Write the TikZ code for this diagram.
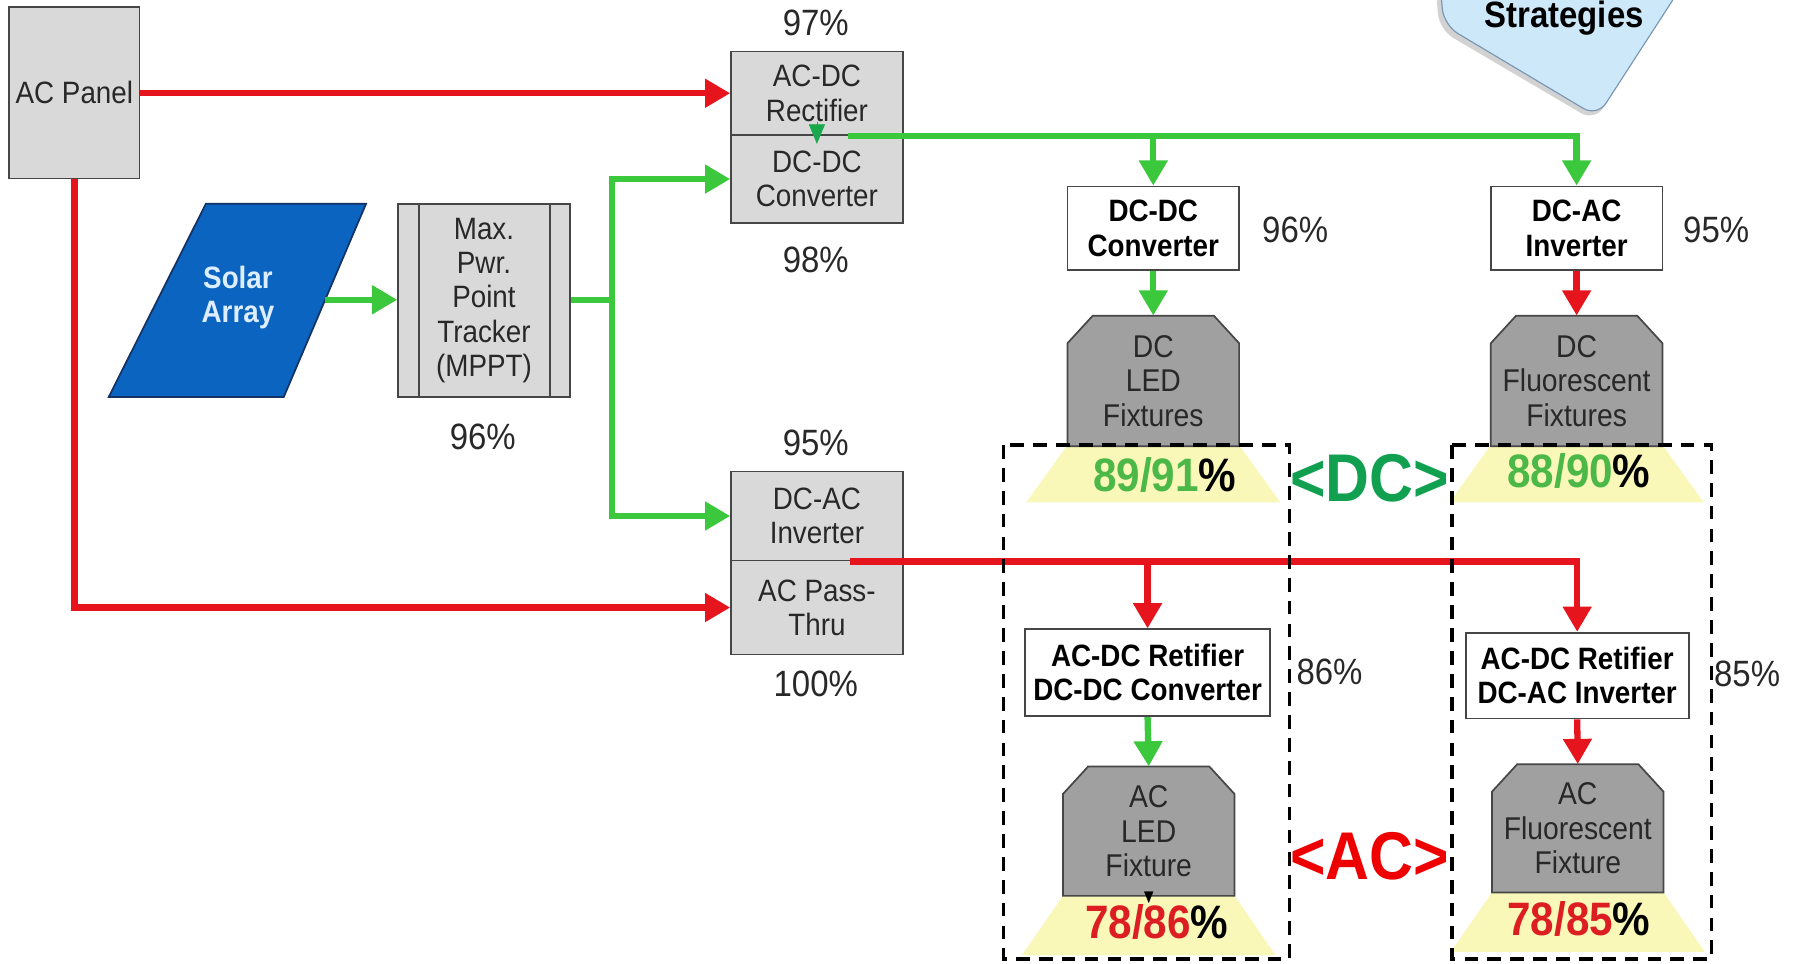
\documentclass[tikz,border=0pt]{standalone}
\usepackage{fontspec}
\setmainfont{Liberation Sans}[FakeStretch=0.9]
\usetikzlibrary{arrows.meta,calc}
\definecolor{boxgray}{RGB}{217,217,217}
\definecolor{edgegray}{RGB}{70,70,70}
\definecolor{fixgray}{RGB}{160,160,160}
\definecolor{redline}{RGB}{230,20,28}
\definecolor{greenline}{RGB}{60,200,60}
\definecolor{dcgreen}{RGB}{16,160,80}
\definecolor{numgreen}{RGB}{76,184,72}
\definecolor{numred}{RGB}{220,30,35}
\definecolor{acred}{RGB}{238,0,0}
\definecolor{solarblue}{RGB}{10,100,192}
\definecolor{solaredge}{RGB}{20,50,100}
\definecolor{solartext}{RGB}{220,238,255}
\definecolor{paleyellow}{RGB}{250,248,185}
\definecolor{calloutblue}{RGB}{205,233,249}
\definecolor{calloutedge}{RGB}{120,150,180}
\definecolor{textdark}{RGB}{40,40,40}
\newcommand{\fsz}[2]{\fontsize{#1}{#2}\selectfont}
\newcommand{\mkfix}[4]{\path[fill=fixgray,draw=edgegray,line width=1.5pt] (#1,#4) -- (#1,#3+24) -- (#1+22,#3) -- (#2-22,#3) -- (#2,#3+24) -- (#2,#4) -- cycle;}
\newcommand{\mktrap}[4]{\path[fill=paleyellow] (#1,#3) -- (#2,#3) -- (#2+36,#4) -- (#1-36,#4) -- cycle;}
\begin{document}
\begin{tikzpicture}[x=1pt,y=-1pt,
  graybox/.style={draw=edgegray, line width=1.5pt, fill=boxgray, minimum width=150pt, inner sep=0pt, align=center, font=\fsz{27}{30}, text=textdark},
  whitebox/.style={draw=edgegray, line width=1.5pt, fill=white, inner sep=0pt, align=center, font=\bfseries\fsz{27}{30}, text=black},
  pct/.style={font=\fsz{32}{34}, text=textdark, inner sep=0pt},
  fixlabel/.style={align=center, font=\fsz{27.5}{30}, text=textdark, inner sep=0pt},
  eff/.style={font=\bfseries\fsz{41}{42}, inner sep=0pt},
  rwire/.style={draw=redline, line width=5.5pt},
  gwire/.style={draw=greenline, line width=5.5pt},
  rarr/.style={rwire, -{Triangle[length=22pt,width=24pt]}},
  garr/.style={gwire, -{Triangle[length=22pt,width=24pt]}},
  dbox/.style={draw=black, line width=3pt, dash pattern=on 12pt off 8pt},
  biglab/.style={font=\bfseries\fsz{59}{60}, inner sep=0pt}
]
\useasboundingbox (0,0) rectangle (1568,842);
\fill[white] (0,0) rectangle (1568,842);
\clip (0,0) rectangle (1568,842);

% callout
\path[fill=black!35, opacity=0.5, rounded corners=14pt] (1254,-20) -- (1258,26) -- (1394,106) -- (1473,-20) -- cycle;
\path[fill=calloutblue, draw=calloutedge, line width=1pt, rounded corners=14pt] (1258,-20) -- (1262,22) -- (1396,102) -- (1475,-20) -- cycle;
\node[font=\bfseries\fsz{32}{34}, anchor=base, inner sep=0pt] (strat) at (1367,24) {Strategies};

% left side
\node[graybox, minimum width=114pt, minimum height=150pt] (acpanel) at (65,81) {AC Panel};

\path[fill=solarblue, draw=solaredge, line width=1.5pt] (180,178) -- (320,178) -- (248,347) -- (95,347) -- cycle;
\node[font=\bfseries\fsz{27}{30}, text=solartext, align=center, inner sep=0pt] (solar) at (208,260) {Solar\\Array};
\coordinate (solarR) at (284,262);

\node[graybox, minimum height=169pt] (mppt) at (423,262.5) {Max.\\Pwr.\\Point\\Tracker\\(MPPT)};
\draw[edgegray, line width=1.5pt] ($(mppt.north west)+(19,0)$) -- ($(mppt.south west)+(19,0)$);
\draw[edgegray, line width=1.5pt] ($(mppt.north east)+(-18,0)$) -- ($(mppt.south east)+(-18,0)$);
\node[pct] (p96a) at (422,382) {96\%};

\node[graybox, minimum height=73pt] (rect) at (714,81.5) {AC-DC\\Rectifier};
\node[graybox, minimum height=77pt] (dcdc1) at (714,156.5) {DC-DC\\Converter};
\node[pct] (p97) at (713,20) {97\%};
\node[pct] (p98) at (713,227) {98\%};

\node[graybox, minimum height=78pt] (inv1) at (714,451) {DC-AC\\Inverter};
\node[graybox, minimum height=82pt] (pass) at (714,531) {AC Pass-\\Thru};
\node[pct] (p95a) at (713,387) {95\%};
\node[pct] (p100) at (713,598) {100\%};

% right side converters
\node[whitebox, minimum width=150pt, minimum height=73pt] (dcdc2) at (1008,199.5) {DC-DC\\Converter};
\node[pct] (p96b) at (1132,201) {96\%};
\node[whitebox, minimum width=150pt, minimum height=73pt] (dcac2) at (1378,199.5) {DC-AC\\Inverter};
\node[pct] (p95b) at (1500,201) {95\%};

\node[whitebox, minimum width=214pt, minimum height=76pt] (rdc) at (1003,588) {AC-DC Retifier\\DC-DC Converter};
\node[pct] (p86) at (1162,587) {86\%};
\node[whitebox, minimum width=195pt, minimum height=75pt] (rac) at (1378.5,590.5) {AC-DC Retifier\\DC-AC Inverter};
\node[pct] (p85) at (1527,589) {85\%};

% fixtures
\mktrap{933}{1083}{389}{439}
\mkfix{933}{1083}{276}{390}
\node[fixlabel, minimum width=150pt, minimum height=114pt] (dcled) at (1008,333) {DC\\LED\\Fixtures};
\node[eff] (e1) at (1018,415) {\textcolor{numgreen}{89/91}\%};

\mktrap{1303}{1453}{389}{439}
\mkfix{1303}{1453}{276}{390}
\node[fixlabel, minimum width=150pt, minimum height=114pt] (dcfl) at (1378,333) {DC\\Fluorescent\\Fixtures};
\node[eff] (e2) at (1380,412) {\textcolor{numgreen}{88/90}\%};

\mktrap{929}{1079}{783}{835}
\mkfix{929}{1079}{670}{783}
\node[fixlabel, minimum width=150pt, minimum height=113pt] (acled) at (1004,726.5) {AC\\LED\\Fixture};
\node[eff] (e3) at (1011,806) {\textcolor{numred}{78/86}\%};

\mktrap{1304}{1454}{780}{832}
\mkfix{1304}{1454}{668}{780}
\node[fixlabel, minimum width=150pt, minimum height=112pt] (acfl) at (1379,724) {AC\\Fluorescent\\Fixture};
\node[eff] (e4) at (1380,803) {\textcolor{numred}{78/85}\%};

% connectors
\draw[rarr] (acpanel.east |- rect.west) -- (rect.west);
\draw[rarr] (acpanel.south) |- (pass.west);
\draw[garr] (solarR) -- (mppt.west |- solarR);
\coordinate (gsplit) at (535,262.5);
\draw[gwire] (mppt.east) -- (gsplit);
\draw[garr] (gsplit) |- (dcdc1.west);
\draw[garr] (gsplit) |- (inv1.west);
\draw[-{Triangle[length=17pt,width=14pt]}, draw=dcgreen!80!greenline, line width=0.5pt] ([yshift=12pt]rect.south) -- ([yshift=-7pt]rect.south);
\draw[garr] ([xshift=27pt]rect.south) -| (dcac2.north);
\draw[garr] (dcdc2.north |- rect.south) -- (dcdc2.north);
\draw[garr] (dcdc2.south) -- (dcled.north);
\draw[rarr] (dcac2.south) -- (dcfl.north);
\draw[rarr] ([xshift=29pt]inv1.south) -| (rac.north);
\draw[rarr] (rdc.north |- inv1.south) -- (rdc.north);
\draw[garr] (rdc.south) -- (acled.north);
\draw[rarr] (rac.south) -- (acfl.north);
\draw[-{Triangle[length=10pt,width=8pt]}, draw=black, line width=0.4pt] ([yshift=4pt]acled.south) -- ([yshift=-6pt]acled.south);

% dashed groups
\draw[dbox] (877,389) rectangle (1127,838);
\draw[dbox] (1269,389) rectangle (1496,838);

\node[biglab, text=dcgreen] (dclab) at (1197,418) {<DC>};
\node[biglab, text=acred] (aclab) at (1197,748) {<AC>};
\end{tikzpicture}
\end{document}
